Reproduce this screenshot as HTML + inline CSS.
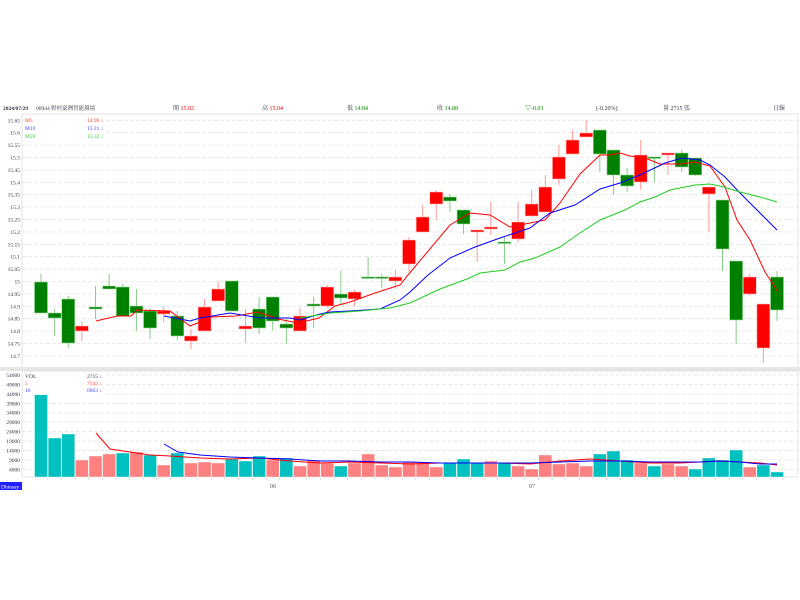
<!DOCTYPE html>
<html><head><meta charset="utf-8"><style>
body{margin:0;background:#fff;width:800px;height:600px;overflow:hidden}
svg{display:block;font-family:"Liberation Serif","Noto Serif CJK SC",serif}
</style></head><body>
<svg id="s" width="800" height="600" xmlns="http://www.w3.org/2000/svg">
<g font-size="6" fill="#334">
<text x="3" y="110" font-weight="bold" font-size="5.5">2024/07/29</text>
<text x="36" y="110" font-size="5.5">00944 野村臺灣智能環境</text>
<text x="173" y="110">開 <tspan fill="#e00">15.02</tspan></text>
<text x="262" y="110">高 <tspan fill="#e00">15.04</tspan></text>
<text x="347" y="110">低 <tspan fill="#080">14.84</tspan></text>
<text x="437" y="110">收 <tspan fill="#080">14.88</tspan></text>
<text x="525" y="110" fill="#080">▽-0.03</text>
<text x="596" y="110">(-0.20%)</text>
<text x="663" y="110">量 2715 張</text>
<text x="773" y="110">日線</text>
</g>
<rect x="22" y="114" width="776" height="255" fill="none" stroke="#ddd" stroke-width="0.8"/>
<rect x="0" y="367" width="800" height="4" fill="#e6e6e6"/>
<rect x="22" y="371" width="776" height="106" fill="none" stroke="#ddd" stroke-width="0.8"/>
<g id="g"></g>
<rect x="0" y="482" width="22" height="8" fill="#2020ff"/>
<text x="1" y="488.5" font-size="5.5" fill="#fff">Dhinsay</text>
<text x="270" y="488" font-size="6" fill="#556">06</text>
<text x="529" y="488" font-size="6" fill="#556">07</text>
</svg>
<script>
const g=document.getElementById('g');let h='';
for(let i=0;i<20;i++){const p=15.65-i*0.05,y=120.3+i*12.4;
h+=`<line x1="22" x2="798" y1="${y}" y2="${y}" stroke="#e4e4e4" stroke-dasharray="4,2" stroke-width="0.8"/>`;
h+=`<text x="20" y="${y+2}" font-size="5.5" fill="#334" text-anchor="end">${(+p.toFixed(2)).toString()}</text>`;}
for(let i=0;i<11;i++){const v=54000-i*5000,y=375+i*9.43;
h+=`<line x1="22" x2="798" y1="${y}" y2="${y}" stroke="#e4e4e4" stroke-dasharray="4,2" stroke-width="0.8"/>`;
h+=`<text x="20" y="${y+2}" font-size="5.5" fill="#334" text-anchor="end">${v}</text>`;}
const C=[['G',282,313,274,313],['G',313,318,309,336],['G',299,343,296,348],['R',326,331,321,341],['G',307,309,286,319],['G',286,289,274,289],['G',287,316,284,316],['G',306,313,289,331],['G',311,328,308,339],['R',311,314,307,322],['G',316,336,311,340],['R',336,341,329,349],['R',307,331,299,331],['R',289,301,282,301],['G',281,311,281,311],['R',326,329,309,343],['G',309,328,297,334],['G',297,321,297,331],['G',324,328,318,344],['R',316,331,308,331],['G',304,306,297,328],['R',287,306,285,308],['G',294,298,271,304],['R',292,299,290,306],['G',277,278,257,278],['G',277,278,274,288],['R',277,281,270,289],['R',240,264,237,272],['R',217,232,205,232],['R',192,204,190,220],['G',197,201,194,212],['G',210,224,210,234],['R',230,232,230,262],['R',227,229,202,235],['G',242,243,237,264],['R',222,239,202,242],['R',204,216,190,216],['R',187,212,175,212],['R',157,179,145,185],['R',140,154,130,154],['R',133,137,120,137],['G',130,154,130,172],['G',150,175,150,195],['G',175,186,168,192],['R',155,182,140,190],['G',157,158,157,182],['R',153,155,153,175],['G',153,167,150,172],['G',158,175,158,176],['R',187,194,187,232],['G',200,249,200,271],['G',261,320,261,344],['R',277,294,274,296],['R',304,348,304,363],['G',277,310,271,321]];
const V=[[0,394],[0,438],[0,434],[1,460],[1,456],[1,454],[0,453],[1,452],[0,455],[1,465],[0,453],[1,463],[1,462],[1,463],[0,459],[0,461],[0,456],[1,460],[0,458],[1,466],[1,460],[1,463],[0,466],[1,463],[1,454],[1,465],[1,467],[1,462],[1,462],[1,467],[0,463],[0,459],[0,463],[1,461],[0,463],[1,466],[1,469],[1,455],[1,464],[1,463],[1,466],[0,454],[0,451],[0,460],[1,463],[0,466],[1,464],[1,466],[0,469],[0,458],[0,460],[0,450],[1,467],[0,465],[0,472]];
C.forEach((c,i)=>{const x=41+i*13.63;const up=c[0]=='R';
h+=`<line x1="${x}" x2="${x}" y1="${c[3]}" y2="${c[4]}" stroke="${up?'#f99':'#8c8'}" stroke-width="1"/>`;
h+=`<rect x="${x-6.5}" y="${c[1]}" width="13" height="${Math.max(c[2]-c[1],1.5)}" fill="${up?'#f00':'#008000'}" stroke="${up?'#fbb':'#9d9'}" stroke-width="0.6"/>`;
const v=V[i];h+=`<rect x="${x-6.5}" y="${v[1]}" width="13" height="${477-v[1]}" fill="${v[0]?'#ff8080':'#00c0c0'}" stroke="#fff" stroke-width="0.4"/>`;
h+=`<line x1="${x+6.8}" x2="${x+6.8}" y1="477" y2="480" stroke="#ccc" stroke-width="0.6"/>`;});
const L=(pts,col)=>{h+=`<polyline points="${pts}" fill="none" stroke="${col}" stroke-width="1"/>`;};
L("96,321 117,316 131,316 137,310 170,311 190,326 200,322 210,317 236,316 258,312 278,319 298,323 319,318 335,306 350,302 375,293 400,285 408,275 450,225 470,213 490,215 510,227 525,224 545,220 560,203 580,174 600,155 610,155 620,153 630,156 645,158 660,164 680,164 695,162 710,166 725,187 737,220 750,240 765,272 778,292","#f00");
L("164,316 190,321 200,318 230,313 260,318 290,318 300,320 320,314 330,312 350,311 380,309 400,300 410,292 428,275 450,258 475,247 500,238 530,228 550,213 575,205 600,189 620,183 640,175 665,163 682,158 700,160 710,165 725,177 740,193 755,208 777,230","#00f");
L("300,318 330,313 360,311 390,308 410,303 440,289 467,279 480,273 505,270 520,262 535,258 560,247 580,233 600,220 625,210 640,202 655,197 670,190 695,185 710,184 720,186 740,192 760,197 777,202","#2c2");
L("96,433 110,449 130,452 150,455 170,456 200,458 230,459 260,458 290,461 320,463 350,462 380,463 410,464 440,463 470,463 500,463 530,464 560,461 590,459 620,461 650,463 680,463 700,462 720,461 740,462 760,463 777,465","#f00");
L("164,444 178,452 200,455 230,457 260,458 290,459 320,461 350,461 380,462 410,462 440,463 470,463 500,463 530,463 560,462 590,461 620,461 650,462 680,462 700,462 720,461 740,462 760,464 777,464","#00f");
h+=`<rect x="23" y="116" width="82" height="24" fill="#fff" opacity="0.9"/>`;
h+=`<g font-size="5.5"><text x="25" y="122" fill="#f44">M5</text><text x="87" y="122" fill="#f44">14.96 ↓</text><text x="25" y="130" fill="#44f">M10</text><text x="87" y="130" fill="#44f">15.21 ↓</text><text x="25" y="138" fill="#3c3">M20</text><text x="87" y="138" fill="#3c3">15.32 ↓</text>`;
h+=`<rect x="23" y="373" width="82" height="22" fill="#fff" opacity="0.9"/><text x="25" y="378" fill="#334">VOL</text><text x="87" y="378" fill="#334">2715 ↓</text><text x="25" y="385" fill="#f44">5</text><text x="87" y="385" fill="#f44">7542 ↓</text><text x="25" y="392" fill="#44f">10</text><text x="87" y="392" fill="#44f">6863 ↓</text></g>`;
g.innerHTML=h;
</script>
</body></html>
